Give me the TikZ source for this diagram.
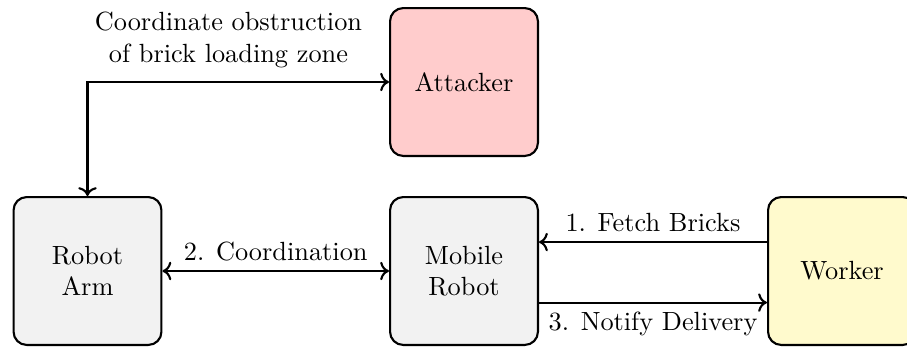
\documentclass[tikz,border=0pt]{standalone}
\usetikzlibrary{arrows.meta}
\definecolor{boxgray}{RGB}{242,242,242}
\definecolor{attpink}{RGB}{255,204,204}
\definecolor{workyellow}{RGB}{255,250,205}
\begin{document}
\begin{tikzpicture}[x=0.38pt,y=-0.38pt,
  agent/.style={draw, thick, rounded corners=5pt, minimum width=56.2pt, minimum height=56.2pt, align=center, inner sep=0pt},
  conn/.style={thick, ->},
  lbl/.style={align=center}]
\useasboundingbox (0,0) rectangle (907,348);
\node[agent, fill=attpink] (att) at (464,82) {Attacker};
\node[agent, fill=boxgray] (arm) at (87.5,271) {Robot\\Arm};
\node[agent, fill=boxgray] (mob) at (464,271) {Mobile\\Robot};
\node[agent, fill=workyellow] (work) at (842,271) {Worker};
\draw[thick, <->] (arm.north) |- (att.west);
\node[lbl] (obs) at (228.5,40) {Coordinate obstruction\\of brick loading zone};
\draw[thick, <->] (arm.east) -- node[above] {2. Coordination} (mob.west);
\draw[conn] ([yshift=11pt]work.west) -- node[above] {1. Fetch Bricks} ([yshift=11pt]mob.east);
\draw[conn] ([yshift=-12pt]mob.east) -- node[below] {3. Notify Delivery} ([yshift=-12pt]work.west);
\end{tikzpicture}
\end{document}
